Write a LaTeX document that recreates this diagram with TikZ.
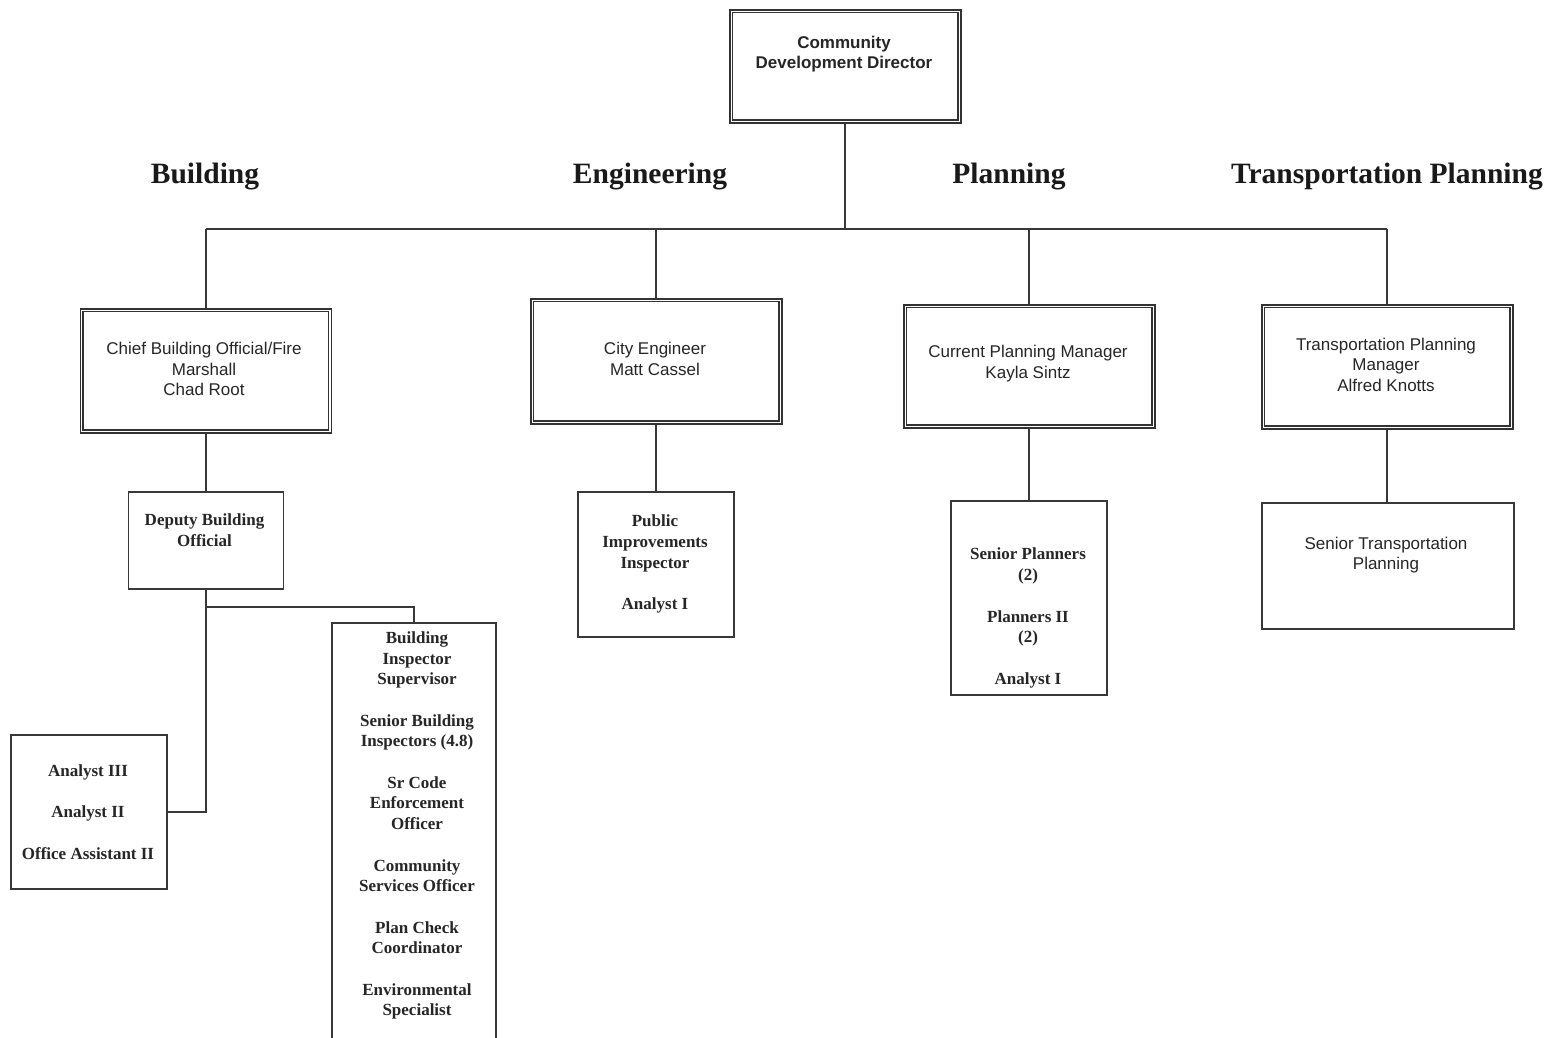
\documentclass[tikz,border=0pt]{standalone}
\usepackage{fontspec}
\setmainfont{Liberation Serif}
\setsansfont{Liberation Sans}
\begin{document}
\begin{tikzpicture}[x=1pt,y=-1pt,
  line/.style={draw=black!78, line width=1.6pt},
  dbox/.style={draw=black!80, line width=1.5pt, fill=white, rectangle, inner sep=0pt,
    anchor=north west},
  inner/.style={draw=black!80, line width=1.5pt},
  sbox/.style={draw=black!78, line width=1.6pt, fill=white, rectangle, inner sep=0pt,
    anchor=north west},
  head/.style={font=\bfseries\fontsize{29.5}{34}\selectfont, text=black!90, inner sep=0pt},
  stxt/.style={font=\sffamily\fontsize{17}{20.5}\selectfont, text=black!85, align=center, inner sep=0pt},
  sbtxt/.style={font=\sffamily\bfseries\fontsize{17}{20.5}\selectfont, text=black!85, align=center, inner sep=0pt},
  rtxt/.style={font=\bfseries\fontsize{17}{20.7}\selectfont, text=black!85, align=center, inner sep=0pt}]
\useasboundingbox (0,0) rectangle (1559,1037);
\clip (0,0) rectangle (1559,1037);
\fill[white] (0,0) rectangle (1559,1037);

% bus level and branch point below the deputy
\coordinate (bus) at (844,229);
\coordinate (bj) at (205,607);

% top box
\node[dbox, minimum width=231, minimum height=113] (dir) at (729,9) {};
\node[sbtxt] (dir-t) at (844,54) {Community\\Development Director};

% section headings
\node[head] (h1) at (205,177) {Building};
\node[head] (h2) at (650,177) {Engineering};
\node[head] (h3) at (1009,177) {Planning};
\node[head] (h4) at (1387,177) {Transportation Planning};

% managers (double framed)
\node[dbox, minimum width=251, minimum height=124] (chief) at (79.5,308) {};
\node[stxt] (chief-t) at (204,369) {Chief Building Official/Fire\\Marshall\\Chad Root};
\node[dbox, minimum width=251, minimum height=125] (eng) at (530,298) {};
\node[stxt] (eng-t) at (655,359) {City Engineer\\Matt Cassel};
\node[dbox, minimum width=251, minimum height=123] (cpm) at (903,304) {};
\node[stxt] (cpm-t) at (1028,363.5) {Current Planning Manager\\Kayla Sintz};
\node[dbox, minimum width=251, minimum height=124] (tpm) at (1261,304) {};
\node[stxt] (tpm-t) at (1386,364.5) {Transportation Planning\\Manager\\Alfred Knotts};
\foreach \n in {dir,chief,eng,cpm,tpm}
  \draw[inner] ([shift={(3.6,3.6)}]\n.north west) rectangle ([shift={(-3.6,-3.6)}]\n.south east);

% staff boxes
\node[sbox, minimum width=155, minimum height=97] (dep) at (127.5,491) {};
\node[rtxt] (dep-t) at (204.5,530) {Deputy Building\\Official};
\node[sbox, minimum width=156, minimum height=145] (pii) at (577,491) {};
\node[rtxt] (pii-t) at (655,564) {Public\\Improvements\\Inspector\\[20.7pt]Analyst I};
\node[sbox, minimum width=156, minimum height=194] (sp) at (950,500) {};
\node[rtxt] (sp-t) at (1028,618) {Senior Planners\\(2)\\[20.7pt]Planners II\\(2)\\[20.7pt]Analyst I};
\node[sbox, minimum width=252, minimum height=126] (stp) at (1261,502) {};
\node[stxt] (stp-t) at (1386,555) {Senior Transportation\\Planning};
\node[sbox, minimum width=156, minimum height=154] (ana) at (10,734) {};
\node[rtxt] (ana-t) at (88,812) {Analyst III\\[20.7pt]Analyst II\\[20.7pt]Office Assistant II};
\node[sbox, minimum width=164, minimum height=440] (bis) at (331,622) {};
\node[rtxt] (bis-t) at (417,825.5) {Building\\Inspector\\Supervisor\\[20.7pt]Senior Building\\Inspectors (4.8)\\[20.7pt]Sr Code\\Enforcement\\Officer\\[20.7pt]Community\\Services Officer\\[20.7pt]Plan Check\\Coordinator\\[20.7pt]Environmental\\Specialist};

% trunk, bus and branch connectors (kept strictly vertical)
\draw[line] (dir.south) -- (dir.south |- bus);
\draw[line] (chief.north |- bus) -- (tpm.north |- bus);
\draw[line] (chief.north |- bus) -- (chief.north);
\draw[line] (eng.north |- bus) -- (eng.north);
\draw[line] (cpm.north |- bus) -- (cpm.north);
\draw[line] (tpm.north |- bus) -- (tpm.north);
\draw[line] (chief.south) -- (chief.south |- dep.north);
\draw[line] (eng.south) -- (eng.south |- pii.north);
\draw[line] (cpm.south) -- (cpm.south |- sp.north);
\draw[line] (tpm.south) -- (tpm.south |- stp.north);
\draw[line] (dep.south) -- (dep.south |- ana.east) -- (ana.east);
\draw[line] (dep.south |- bj) -| (bis.north);
\end{tikzpicture}
\end{document}
